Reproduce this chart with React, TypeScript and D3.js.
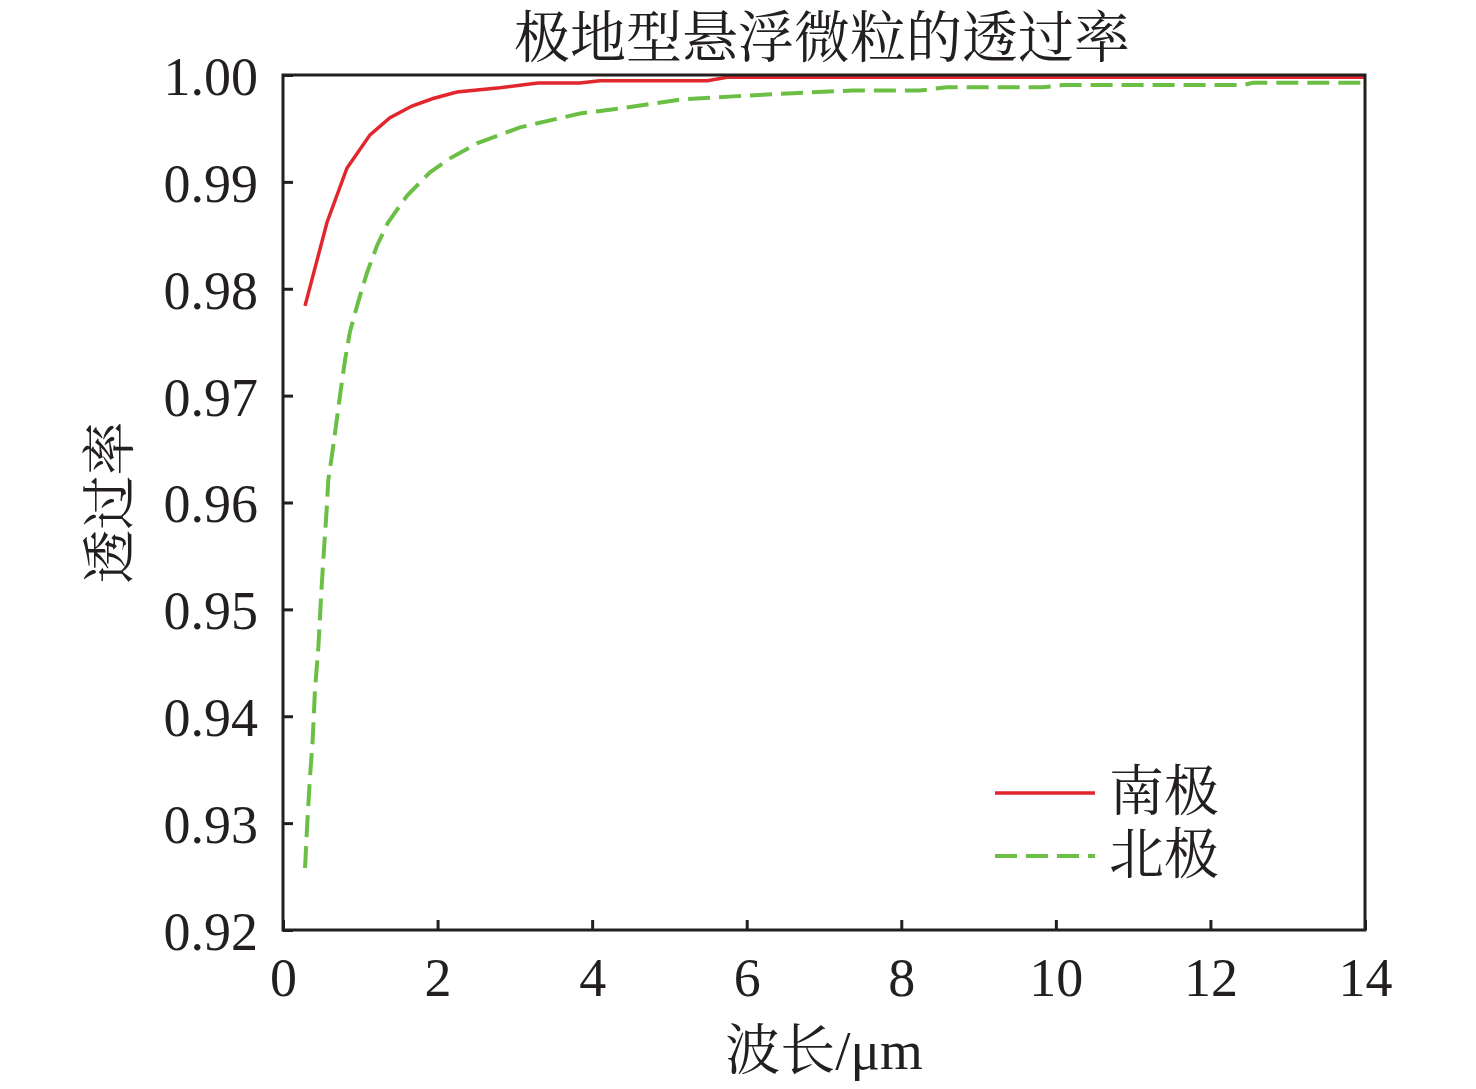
import React, { useRef, useEffect } from 'react'
import * as d3 from 'd3'

// 南极 (Antarctic) aerosol transmittance
const southWavelength = [0.285, 0.569, 0.828, 1.126, 1.384, 1.669, 1.941, 2.251, 2.808, 3.299, 3.843, 4.1, 5.49, 5.745, 14]
const southTransmit = [0.9784, 0.9862, 0.9913, 0.9944, 0.996, 0.9971, 0.9978, 0.9984, 0.9988, 0.99925, 0.99925, 0.99946, 0.99946, 0.99978, 0.99978]

// 北极 (Arctic) aerosol transmittance
const northWavelength = [
  0.285, 0.314, 0.349, 0.384, 0.414, 0.457, 0.492, 0.521, 0.565, 0.586, 0.643, 0.695, 0.747, 0.802, 0.867, 0.97,
  1.087, 1.22, 1.359, 1.604, 1.902, 2.161, 2.51, 3.066, 3.843, 4.399, 5.136, 5.822, 6.599, 7.375, 8.24, 8.59, 9.83,
  10.09, 12.42, 12.55, 14,
]
const northTransmit = [
  0.9258, 0.93, 0.9343, 0.9378, 0.9425, 0.9464, 0.9511, 0.9546, 0.9593, 0.9621, 0.9649, 0.9677, 0.9705, 0.9733,
  0.976, 0.9787, 0.9815, 0.9841, 0.9862, 0.9887, 0.9909, 0.9922, 0.9936, 0.9951, 0.9964, 0.9969, 0.9977, 0.998, 0.9983,
  0.99855, 0.99855, 0.99885, 0.99885, 0.99906, 0.99906, 0.99928, 0.99928,
]

const xTicks = [0, 2, 4, 6, 8, 10, 12, 14]
const yTicks = [0.92, 0.93, 0.94, 0.95, 0.96, 0.97, 0.98, 0.99, 1.0]
const seriesNames = ['南极', '北极']

const title = '极地型悬浮微粒的透过率'
const xLabel = '波长/μm'
const yLabel = '透过率'

const width = 1476
const height = 1089
const margin = { top: 75, right: 111, bottom: 159, left: 283 }
const latinFont = '"Liberation Serif", "Times New Roman", "DejaVu Serif", serif'
const cjkFont = '"Liberation Serif", "Noto Serif CJK SC", "Noto Sans CJK SC", serif'

const App: React.FC = () => {
  const svgRef = useRef<SVGSVGElement>(null)

  useEffect(() => {
    if (!svgRef.current) return
    document.body.style.margin = '0'

    const svg = d3.select(svgRef.current)
    svg.selectAll('*').remove()

    const innerWidth = width - margin.left - margin.right
    const innerHeight = height - margin.top - margin.bottom

    const g = svg.append('g').attr('transform', `translate(${margin.left}, ${margin.top})`)

    const xScale = d3.scaleLinear().domain([0, 14]).range([0, innerWidth])
    const yScale = d3.scaleLinear().domain([0.92, 1.0]).range([innerHeight, 0])

    // Axes with inward ticks
    const xAxis = g
      .append('g')
      .attr('transform', `translate(0, ${innerHeight})`)
      .call(d3.axisBottom(xScale).tickValues(xTicks).tickSize(-10).tickPadding(28).tickFormat(d3.format('d')))
    const yAxis = g
      .append('g')
      .call(d3.axisLeft(yScale).tickValues(yTicks).tickSize(-10).tickPadding(25).tickFormat(d3.format('.2f')))

    ;[xAxis, yAxis].forEach(ax => {
      ax.select('.domain').remove()
      ax.selectAll('.tick line').style('stroke', '#231f20').style('stroke-width', 3)
      ax.selectAll('text')
        .style('font-family', latinFont)
        .style('font-size', '54px')
        .style('fill', '#231f20')
    })
    xAxis.selectAll('text').attr('dy', '0.71em')
    yAxis.selectAll('text').attr('dy', '0.36em')

    // Lines
    const line = d3
      .line<[number, number]>()
      .x(d => xScale(d[0]))
      .y(d => yScale(d[1]))

    const southData = southWavelength.map((w, i) => [w, southTransmit[i]] as [number, number])
    const northData = northWavelength.map((w, i) => [w, northTransmit[i]] as [number, number])

    g.append('path')
      .datum(northData)
      .attr('fill', 'none')
      .attr('stroke', '#6bbf44')
      .attr('stroke-width', 4)
      .attr('stroke-dasharray', '22 9')
      .attr('d', line)

    g.append('path')
      .datum(southData)
      .attr('fill', 'none')
      .attr('stroke', '#e1262d')
      .attr('stroke-width', 3.5)
      .attr('d', line)

    // Frame
    g.append('rect')
      .attr('x', 0)
      .attr('y', 0)
      .attr('width', innerWidth)
      .attr('height', innerHeight)
      .attr('fill', 'none')
      .attr('stroke', '#231f20')
      .attr('stroke-width', 3)

    // Titles
    svg.append('text')
      .attr('x', 822)
      .attr('y', 38)
      .attr('text-anchor', 'middle')
      .attr('dominant-baseline', 'central')
      .style('font-family', cjkFont)
      .style('font-size', '56px')
      .style('fill', '#231f20')
      .text(title)

    svg.append('text')
      .attr('x', margin.left + innerWidth / 2)
      .attr('y', 1050)
      .attr('text-anchor', 'middle')
      .attr('dominant-baseline', 'central')
      .style('font-family', cjkFont)
      .style('font-size', '55px')
      .style('fill', '#231f20')
      .text(xLabel)

    svg.append('text')
      .attr('transform', `translate(111, ${margin.top + innerHeight / 2}) rotate(-90)`)
      .attr('text-anchor', 'middle')
      .attr('dominant-baseline', 'central')
      .style('font-family', cjkFont)
      .style('font-size', '54px')
      .style('fill', '#231f20')
      .text(yLabel)

    // Legend
    const legend = svg.append('g').attr('transform', 'translate(995, 793)')
    const legendStyles = [
      { color: '#e1262d', dash: null, w: 3.5 },
      { color: '#6bbf44', dash: '22 9', w: 4 },
    ]
    seriesNames.forEach((name, i) => {
      const item = legend.append('g').attr('transform', `translate(0, ${i * 63})`)
      const ln = item
        .append('line')
        .attr('x1', 0)
        .attr('x2', 100)
        .attr('y1', 0)
        .attr('y2', 0)
        .attr('stroke', legendStyles[i].color)
        .attr('stroke-width', legendStyles[i].w)
      if (legendStyles[i].dash) ln.attr('stroke-dasharray', legendStyles[i].dash as string)
      item
        .append('text')
        .attr('x', 114)
        .attr('y', -2)
        .attr('dominant-baseline', 'central')
        .style('font-family', cjkFont)
        .style('font-size', '55px')
        .style('fill', '#231f20')
        .text(name)
    })
  }, [])

  return (
    <div>
      <svg ref={svgRef} width={width} height={height} style={{ display: 'block' }} />
    </div>
  )
}

export default App
